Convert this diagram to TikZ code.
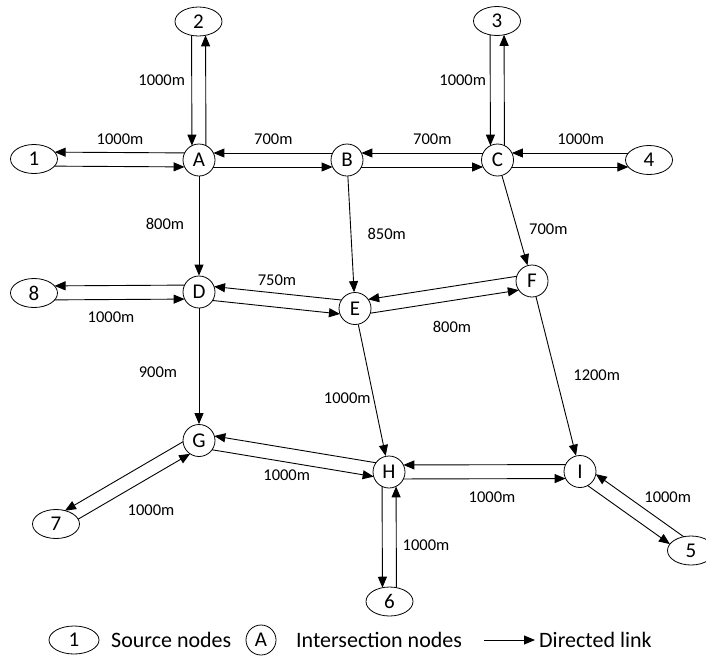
\documentclass[tikz,border=0pt]{standalone}
\usepackage{fontspec}
\setmainfont{Carlito}
\usetikzlibrary{arrows.meta,calc,shapes.geometric}
\tikzset{
  link/.style={-{Triangle[length=11pt,width=9pt]}, line width=0.9pt},
  src/.style={ellipse, draw, line width=0.8pt, minimum width=47pt, minimum height=29pt, inner sep=0pt, font=\fontsize{21}{21}\selectfont},
  inter/.style={circle, draw, line width=0.8pt, minimum size=32pt, inner sep=0pt, font=\fontsize{21}{21}\selectfont},
  lbl/.style={inner sep=0pt, font=\fontsize{16.5}{17}\selectfont},
  legtext/.style={inner sep=0pt, anchor=west, font=\fontsize{22}{22}\selectfont}
}
% one-way link drawn on the right side of travel
\newcommand{\oneway}[4]{%
  \draw[link, shorten <=#3pt, shorten >=#4pt] ($(#1)!7pt!-90:(#2)$) -- ($(#2)!7pt!90:(#1)$);}
\begin{document}
\begin{tikzpicture}[x=1pt,y=-1pt]
\useasboundingbox (0,0) rectangle (706,659);
% source nodes
\node[src] (n1) at (34,159) {1};
\node[src] (n2) at (198.5,21.5) {2};
\node[src] (n3) at (497,21) {3};
\node[src] (n4) at (649,160) {4};
\node[src] (n5) at (691,550.5) {5};
\node[src] (n6) at (389.5,601.5) {6};
\node[src] (n7) at (56,524) {7};
\node[src] (n8) at (34,293) {8};
% intersection nodes
\node[inter] (A) at (199,160) {A};
\node[inter] (B) at (347,160) {B};
\node[inter] (C) at (497.5,160) {C};
\node[inter] (D) at (199,292) {D};
\node[inter] (E) at (355,308.5) {E};
\node[inter] (F) at (532,281) {F};
\node[inter] (G) at (199,440.5) {G};
\node[inter] (H) at (389,472) {H};
\node[inter] (I) at (580,471.5) {I};
% two-way links
\oneway{n1}{A}{20.6}{14.4} \oneway{A}{n1}{14.4}{20.6}
\oneway{n2}{A}{13.8}{14.4} \oneway{A}{n2}{14.4}{13.8}
\oneway{A}{B}{14.4}{14.4} \oneway{B}{A}{14.4}{14.4}
\oneway{B}{C}{14.4}{14.4} \oneway{C}{B}{14.4}{14.4}
\oneway{n3}{C}{13.8}{14.4} \oneway{C}{n3}{14.4}{13.8}
\oneway{n4}{C}{20.6}{14.4} \oneway{C}{n4}{14.4}{20.6}
\oneway{n8}{D}{20.6}{14.4} \oneway{D}{n8}{14.4}{20.6}
\oneway{D}{E}{14.4}{14.4} \oneway{E}{D}{14.4}{14.4}
\oneway{E}{F}{14.4}{14.4} \oneway{F}{E}{14.4}{14.4}
\oneway{G}{H}{14.4}{14.4} \oneway{H}{G}{14.4}{14.4}
\oneway{H}{I}{14.4}{14.4} \oneway{I}{H}{14.4}{14.4}
\oneway{n7}{G}{21.5}{14.4} \oneway{G}{n7}{14.4}{14.5}
\oneway{H}{n6}{14.4}{13.8} \oneway{n6}{H}{13.8}{14.4}
\oneway{I}{n5}{14.4}{20.9} \oneway{n5}{I}{14}{14.4}
% one-way links
\draw[link] (A) -- (D);
\draw[link] (B) -- (E);
\draw[link] (C) -- (F);
\draw[link] (D) -- (G);
\draw[link] (E) -- (H);
\draw[link] (F) -- (I);
% labels
\node[lbl] (l2A) at (161.7,80) {1000m};
\node[lbl] (l1A) at (120,139.3) {1000m};
\node[lbl] (lAB) at (273.3,139) {700m};
\node[lbl] (lBC) at (432.3,139.3) {700m};
\node[lbl] (lC4) at (580.7,139.3) {1000m};
\node[lbl] (l3C) at (462.7,80) {1000m};
\node[lbl] (lAD) at (165,224) {800m};
\node[lbl] (lBE) at (386.7,234.3) {850m};
\node[lbl] (lCF) at (548.3,229.3) {700m};
\node[lbl] (lDE) at (277,280) {750m};
\node[lbl] (l8D) at (111,316.7) {1000m};
\node[lbl] (lEF) at (452,327.3) {800m};
\node[lbl] (lDG) at (158,371.7) {900m};
\node[lbl] (lEH) at (347.3,398.3) {1000m};
\node[lbl] (lFI) at (596.7,375) {1200m};
\node[lbl] (lGH) at (286.7,475) {1000m};
\node[lbl] (l7G) at (151,510) {1000m};
\node[lbl] (lHI) at (492,496.7) {1000m};
\node[lbl] (lI5) at (667.7,496.7) {1000m};
\node[lbl] (lH6) at (426,545) {1000m};
% legend
\node[src, minimum width=50pt, minimum height=28pt] (k1) at (74,640) {1};
\node[legtext] (t1) at (111,640) {Source nodes};
\node[inter, minimum size=30pt] (kA) at (261,640) {A};
\node[legtext] (t2) at (296,640) {Intersection nodes};
\coordinate (a1) at (484,640);
\coordinate (a2) at (535,640);
\draw[link] (a1) -- (a2);
\node[legtext] (t3) at (539,640) {Directed link};
\end{tikzpicture}
\end{document}
